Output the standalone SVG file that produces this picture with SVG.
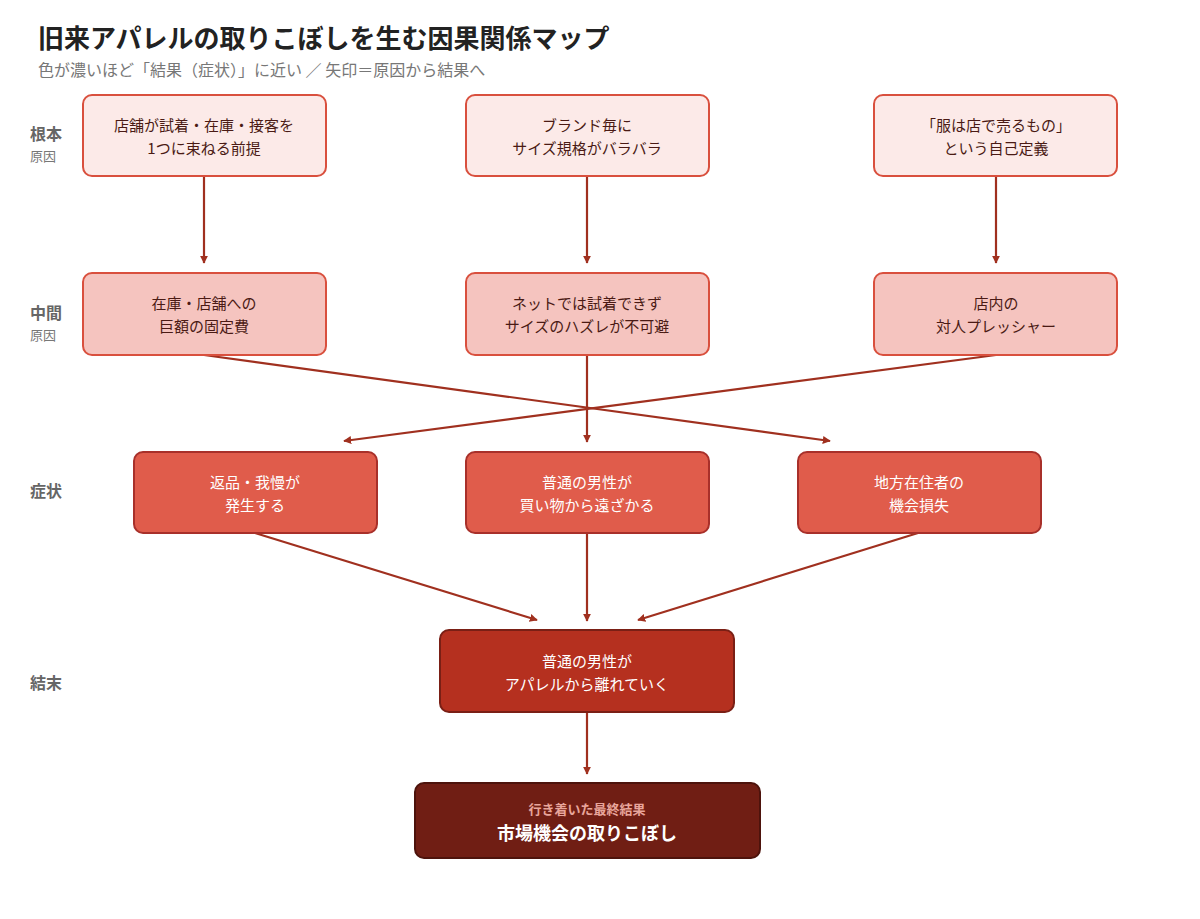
<svg xmlns="http://www.w3.org/2000/svg" width="1200" height="919" viewBox="0 0 1200 919">
<style>
text{font-family:"Noto Sans CJK JP","Noto Sans CJK SC",sans-serif}
.t{font-size:15px;text-anchor:middle}
.r1 rect{fill:#fceae8;stroke:#d9503e;stroke-width:2}
.r2 rect{fill:#f5c4bf;stroke:#d9503e;stroke-width:2}
.r3 rect{fill:#e05c4b;stroke:#a8302a;stroke-width:2}
.r4 rect{fill:#b5301f;stroke:#7a1f15;stroke-width:2}
.r1 text,.r2 text{fill:#4a1a14}
.r3 text,.r4 text{fill:#fff}
.lab{font-size:16px;font-weight:bold;fill:#666}
.sub{font-size:13px;fill:#777}
.c line{stroke:#a0301f;stroke-width:2.2;marker-end:url(#a)}
</style>
<defs><marker id="a" viewBox="0 0 10 10" refX="9" refY="5" markerWidth="8" markerHeight="8" markerUnits="userSpaceOnUse" orient="auto"><path d="M0,0L10,5L0,10z" fill="#a0301f" transform="scale(1)"/></marker>
<marker id="b" viewBox="0 0 18 18" refX="17" refY="9" markerWidth="18" markerHeight="18" markerUnits="userSpaceOnUse" orient="auto"><path d="M0,0L18,9L0,18z" fill="#a0301f"/></marker></defs>
<rect width="1200" height="919" fill="#fff"/>
<text x="38" y="48" font-size="26" font-weight="bold" fill="#222">旧来アパレルの取りこぼしを生む因果関係マップ</text>
<text x="38" y="76" font-size="16" fill="#777">色が濃いほど「結果（症状）」に近い ／ 矢印＝原因から結果へ</text>
<text class="lab" x="30" y="140">根本</text><text class="sub" x="30" y="161">原因</text>
<text class="lab" x="30" y="319">中間</text><text class="sub" x="30" y="340">原因</text>
<text class="lab" x="30" y="497">症状</text>
<text class="lab" x="30" y="689">結末</text>
<g class="c">
<line x1="204" y1="176" x2="204" y2="263" marker-end="url(#b)"/>
<line x1="587" y1="176" x2="587" y2="263" marker-end="url(#b)"/>
<line x1="996" y1="176" x2="996" y2="263" marker-end="url(#b)"/>
<line x1="204" y1="355" x2="830" y2="441" marker-end="url(#b)"/>
<line x1="996" y1="355" x2="344" y2="441" marker-end="url(#b)"/>
<line x1="587" y1="355" x2="587" y2="442" marker-end="url(#b)"/>
<line x1="255" y1="533" x2="537" y2="620" marker-end="url(#b)"/>
<line x1="587" y1="533" x2="587" y2="621" marker-end="url(#b)"/>
<line x1="918" y1="533" x2="638" y2="620" marker-end="url(#b)"/>
<line x1="587" y1="712" x2="587" y2="774" marker-end="url(#b)"/>
</g>
<g id="n1" class="r1"><rect x="83" y="95" width="243" height="81" rx="9"/><text class="t" x="204" y="131">店舗が試着・在庫・接客を</text><text class="t" x="204" y="154">1つに束ねる前提</text></g>
<g id="n2" class="r1"><rect x="466" y="95" width="243" height="81" rx="9"/><text class="t" x="587" y="131">ブランド毎に</text><text class="t" x="587" y="154">サイズ規格がバラバラ</text></g>
<g id="n3" class="r1"><rect x="874" y="95" width="243" height="81" rx="9"/><text class="t" x="996" y="131">「服は店で売るもの」</text><text class="t" x="996" y="154">という自己定義</text></g>
<g id="n4" class="r2"><rect x="83" y="273" width="243" height="82" rx="9"/><text class="t" x="204" y="309">在庫・店舗への</text><text class="t" x="204" y="332">巨額の固定費</text></g>
<g id="n5" class="r2"><rect x="466" y="273" width="243" height="82" rx="9"/><text class="t" x="587" y="309">ネットでは試着できず</text><text class="t" x="587" y="332">サイズのハズレが不可避</text></g>
<g id="n6" class="r2"><rect x="874" y="273" width="243" height="82" rx="9"/><text class="t" x="996" y="309">店内の</text><text class="t" x="996" y="332">対人プレッシャー</text></g>
<g id="n7" class="r3"><rect x="134" y="452" width="243" height="81" rx="9"/><text class="t" x="255" y="488">返品・我慢が</text><text class="t" x="255" y="511">発生する</text></g>
<g id="n8" class="r3"><rect x="466" y="452" width="243" height="81" rx="9"/><text class="t" x="587" y="488">普通の男性が</text><text class="t" x="587" y="511">買い物から遠ざかる</text></g>
<g id="n9" class="r3"><rect x="798" y="452" width="243" height="81" rx="9"/><text class="t" x="919" y="488">地方在住者の</text><text class="t" x="919" y="511">機会損失</text></g>
<g id="n10" class="r4"><rect x="440" y="630" width="294" height="82" rx="9"/><text class="t" x="587" y="667">普通の男性が</text><text class="t" x="587" y="690">アパレルから離れていく</text></g>
<g id="n11"><rect x="415" y="783" width="345" height="75" rx="9" fill="#701e14" stroke="#4d130c" stroke-width="2"/><text x="587" y="814" font-size="13" font-weight="bold" fill="#e8a59b" text-anchor="middle">行き着いた最終結果</text><text x="587" y="840" font-size="18" font-weight="bold" fill="#fff" text-anchor="middle">市場機会の取りこぼし</text></g>
</svg>
